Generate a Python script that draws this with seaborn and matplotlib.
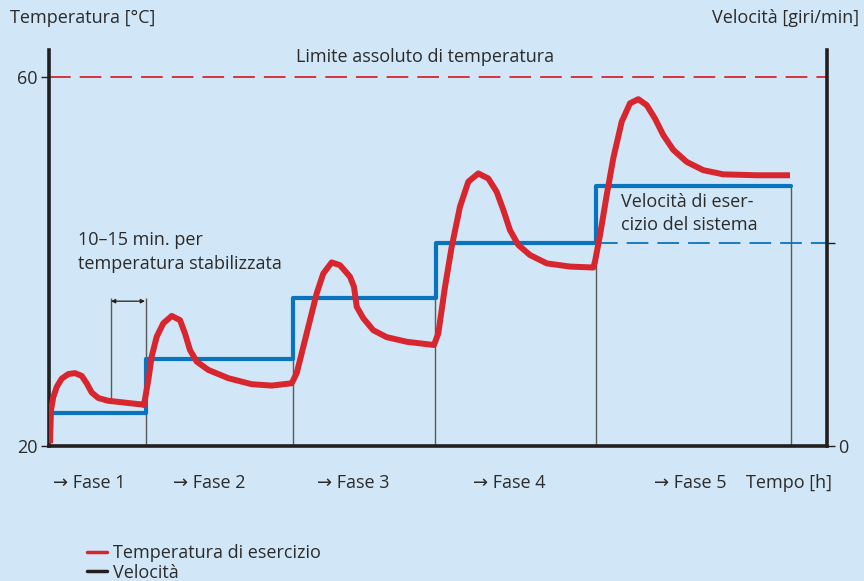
import matplotlib
matplotlib.use("Agg")
import matplotlib.pyplot as plt
import matplotlib.transforms as mtransforms
import seaborn as sns
import pandas as pd
from matplotlib.lines import Line2D

# ---------------- data ----------------
# time in arbitrary units (0 .. 77.8), temperature in degC
temp_time = [0.1, 0.2, 0.43, 0.77, 1.27, 1.93, 2.6, 3.27, 3.77, 4.27, 4.93, 5.93, 7.6, 9.27, 9.5,
             9.93, 10.27, 10.77, 11.43, 12.27, 13.1, 13.6, 14.1, 14.77, 15.93, 17.93, 20.27, 22.27, 24.27,
             24.77, 25.43, 26.1, 26.77, 27.43, 28.27, 29.1, 30.1, 30.5, 30.77, 31.43, 32.43, 33.77, 35.77, 38.5,
             38.93, 39.6, 40.27, 41.1, 41.93, 42.93, 43.93, 44.77, 45.43, 46.1, 46.93, 48.1, 49.77, 52.1, 54.43,
             54.6, 55.1, 55.77, 56.43, 57.27, 58.1, 58.93, 59.77, 60.6, 61.43, 62.43, 63.77, 65.43, 67.43, 70.77, 74.1]
temp_vals = [20.3, 23.9, 25.3, 26.4, 27.3, 27.8, 27.9, 27.6, 26.8, 25.8, 25.2, 24.9, 24.7, 24.5, 24.45,
             27.15, 29.7, 31.85, 33.3, 34.1, 33.65, 32.2, 30.4, 29.15, 28.25, 27.35, 26.7, 26.55, 26.8,
             27.9, 30.75, 33.65, 36.55, 38.7, 39.9, 39.6, 38.35, 37.25, 35.1, 33.85, 32.55, 31.8, 31.3, 30.95,
             32.2, 37.25, 41.6, 45.95, 48.65, 49.55, 49.0, 47.55, 45.6, 43.4, 41.8, 40.7, 39.8, 39.45, 39.35,
             40.0, 42.85, 47.2, 51.2, 55.15, 57.15, 57.6, 56.95, 55.5, 53.7, 52.1, 50.8, 49.9, 49.45, 49.35, 49.35]

speed_time = [0.4, 9.7, 24.4, 38.7, 54.7, 74.2]
speed_vals = [3.6, 9.4, 16.0, 22.0, 28.2, 28.2]

phase_bounds = [9.7, 24.4, 38.6, 54.7, 74.2]
phase_labels = ["\u2192 Fase 1", "\u2192 Fase 2", "\u2192 Fase 3", "\u2192 Fase 4", "\u2192 Fase 5"]
phase_label_x = [4.0, 16.0, 30.4, 46.0, 64.1]
temp_ticks = [20, 60]
temp_limit = 60
operating_speed = 22.0

# ---------------- style ----------------
BG = "#d1e6f6"
RED = "#d7262e"
BLUE = "#0a73bd"
DARK = "#231f20"
GREY = "#5a5a5a"
TXT = "#2b2b2b"

sns.set_theme(style="white")
plt.rcParams["font.family"] = ["Open Sans", "DejaVu Sans"]
plt.rcParams["text.color"] = TXT

fig = plt.figure(figsize=(8.64, 5.81), dpi=100, facecolor=BG)
ax = fig.add_axes([49/864, 1-446/581, (827-49)/864, (446-50)/581])
ax.set_facecolor(BG)
ax.set_xlim(0, 77.8)
ax.set_ylim(20, 62.93)

ax2 = ax.twinx()
ax2.set_ylim(0, 42.93)
ax2.patch.set_visible(False)

df_t = pd.DataFrame({"t": temp_time, "T": temp_vals})
df_s = pd.DataFrame({"t": speed_time, "v": speed_vals})

# grey vertical guide lines
guide_tops = [36.04, 29.43, 36.04, 42.0, 48.18]
for xb, top in zip(phase_bounds, guide_tops):
    ax.vlines(xb, 20, top, color=GREY, lw=1.0, zorder=1)
ax.vlines(6.2, 24.9, 36.04, color=GREY, lw=1.0, zorder=1)
ax.annotate("", xy=(6.2, 35.7), xytext=(9.6, 35.7),
            arrowprops=dict(arrowstyle="<|-|>", color=DARK, lw=0.9,
                            mutation_scale=6, shrinkA=0, shrinkB=0))

# limit line
ax.axhline(temp_limit, color=RED, lw=1.3, dashes=(12, 5), zorder=2)

# speed step line
sns.lineplot(data=df_s, x="t", y="v", ax=ax2, color=BLUE, lw=3,
             drawstyle="steps-post", zorder=3, legend=False)
ax2.lines[-1].set_solid_joinstyle("round")
ax2.hlines(operating_speed, 54.7, 77.8, color=BLUE, lw=1.3,
           linestyles=(0, (12, 5)), zorder=2)

# temperature curve (drawn on top)
sns.lineplot(data=df_t, x="t", y="T", ax=ax2, color=RED, lw=4.3, zorder=4,
             legend=False, sort=False)
ax2.lines[-1].set_transform(ax.transData)
ax2.lines[-1].set_solid_joinstyle("round")
ax2.lines[-1].set_solid_capstyle("butt")

# spines
for a in (ax, ax2):
    for s in a.spines.values():
        s.set_visible(False)
ax.spines["left"].set_visible(True)
ax.spines["bottom"].set_visible(True)
ax2.spines["right"].set_visible(True)
for s in (ax.spines["left"], ax.spines["bottom"], ax2.spines["right"]):
    s.set_color(DARK)
    s.set_linewidth(2.6)

ax.set_xlabel(""); ax.set_ylabel("")
ax2.set_xlabel(""); ax2.set_ylabel("")
ax2.set_ylim(0, 42.93)
ax.set_yticks(temp_ticks)
ax.set_yticklabels([str(v) for v in temp_ticks], fontsize=13, color=TXT)
ax.set_xticks([0] + phase_bounds)
ax.set_xticklabels([])
ax.tick_params(axis="both", direction="out", length=6, width=1.0, color=DARK, pad=2)
ax2.set_yticks([0, operating_speed])
ax2.set_yticklabels(["0", ""], fontsize=13, color=TXT)
ax2.tick_params(axis="y", direction="out", length=6, width=1.0, color=DARK, pad=2)

# texts
fig.text(10/864, 1-18/581, "Temperatura [\u00b0C]", fontsize=13, ha="left", va="center")
fig.text(859/864, 1-18/581, "Velocit\u00e0 [giri/min]", fontsize=13, ha="right", va="center")
fig.text(425/864, 1-57/581, "Limite assoluto di temperatura", fontsize=13,
         ha="center", va="center")
ax.text(2.9, 41.0, "10\u201315 min. per\ntemperatura stabilizzata", fontsize=13,
        ha="left", va="center", linespacing=1.4)
ax.text(57.2, 45.2, "Velocit\u00e0 di eser-\ncizio del sistema", fontsize=13,
        ha="left", va="center", linespacing=1.4)
blend = mtransforms.blended_transform_factory(ax.transData, fig.transFigure)
for lx, lab in zip(phase_label_x, phase_labels):
    ax.text(lx, 1-483/581, lab, fontsize=13, ha="center", va="center", transform=blend)
fig.text(789/864, 1-483/581, "Tempo [h]", fontsize=13, ha="center", va="center")

handles = [Line2D([0], [0], color=RED, lw=2.5), Line2D([0], [0], color=DARK, lw=2.5)]
fig.legend(handles, ["Temperatura di esercizio", "Velocit\u00e0"], loc="upper left",
           bbox_to_anchor=(87/864, 1-544/581), frameon=False, fontsize=13,
           handlelength=1.1, handletextpad=0.35, labelspacing=0.1, borderpad=0,
           borderaxespad=0)

fig.savefig("out.png", dpi=100, facecolor=BG)
